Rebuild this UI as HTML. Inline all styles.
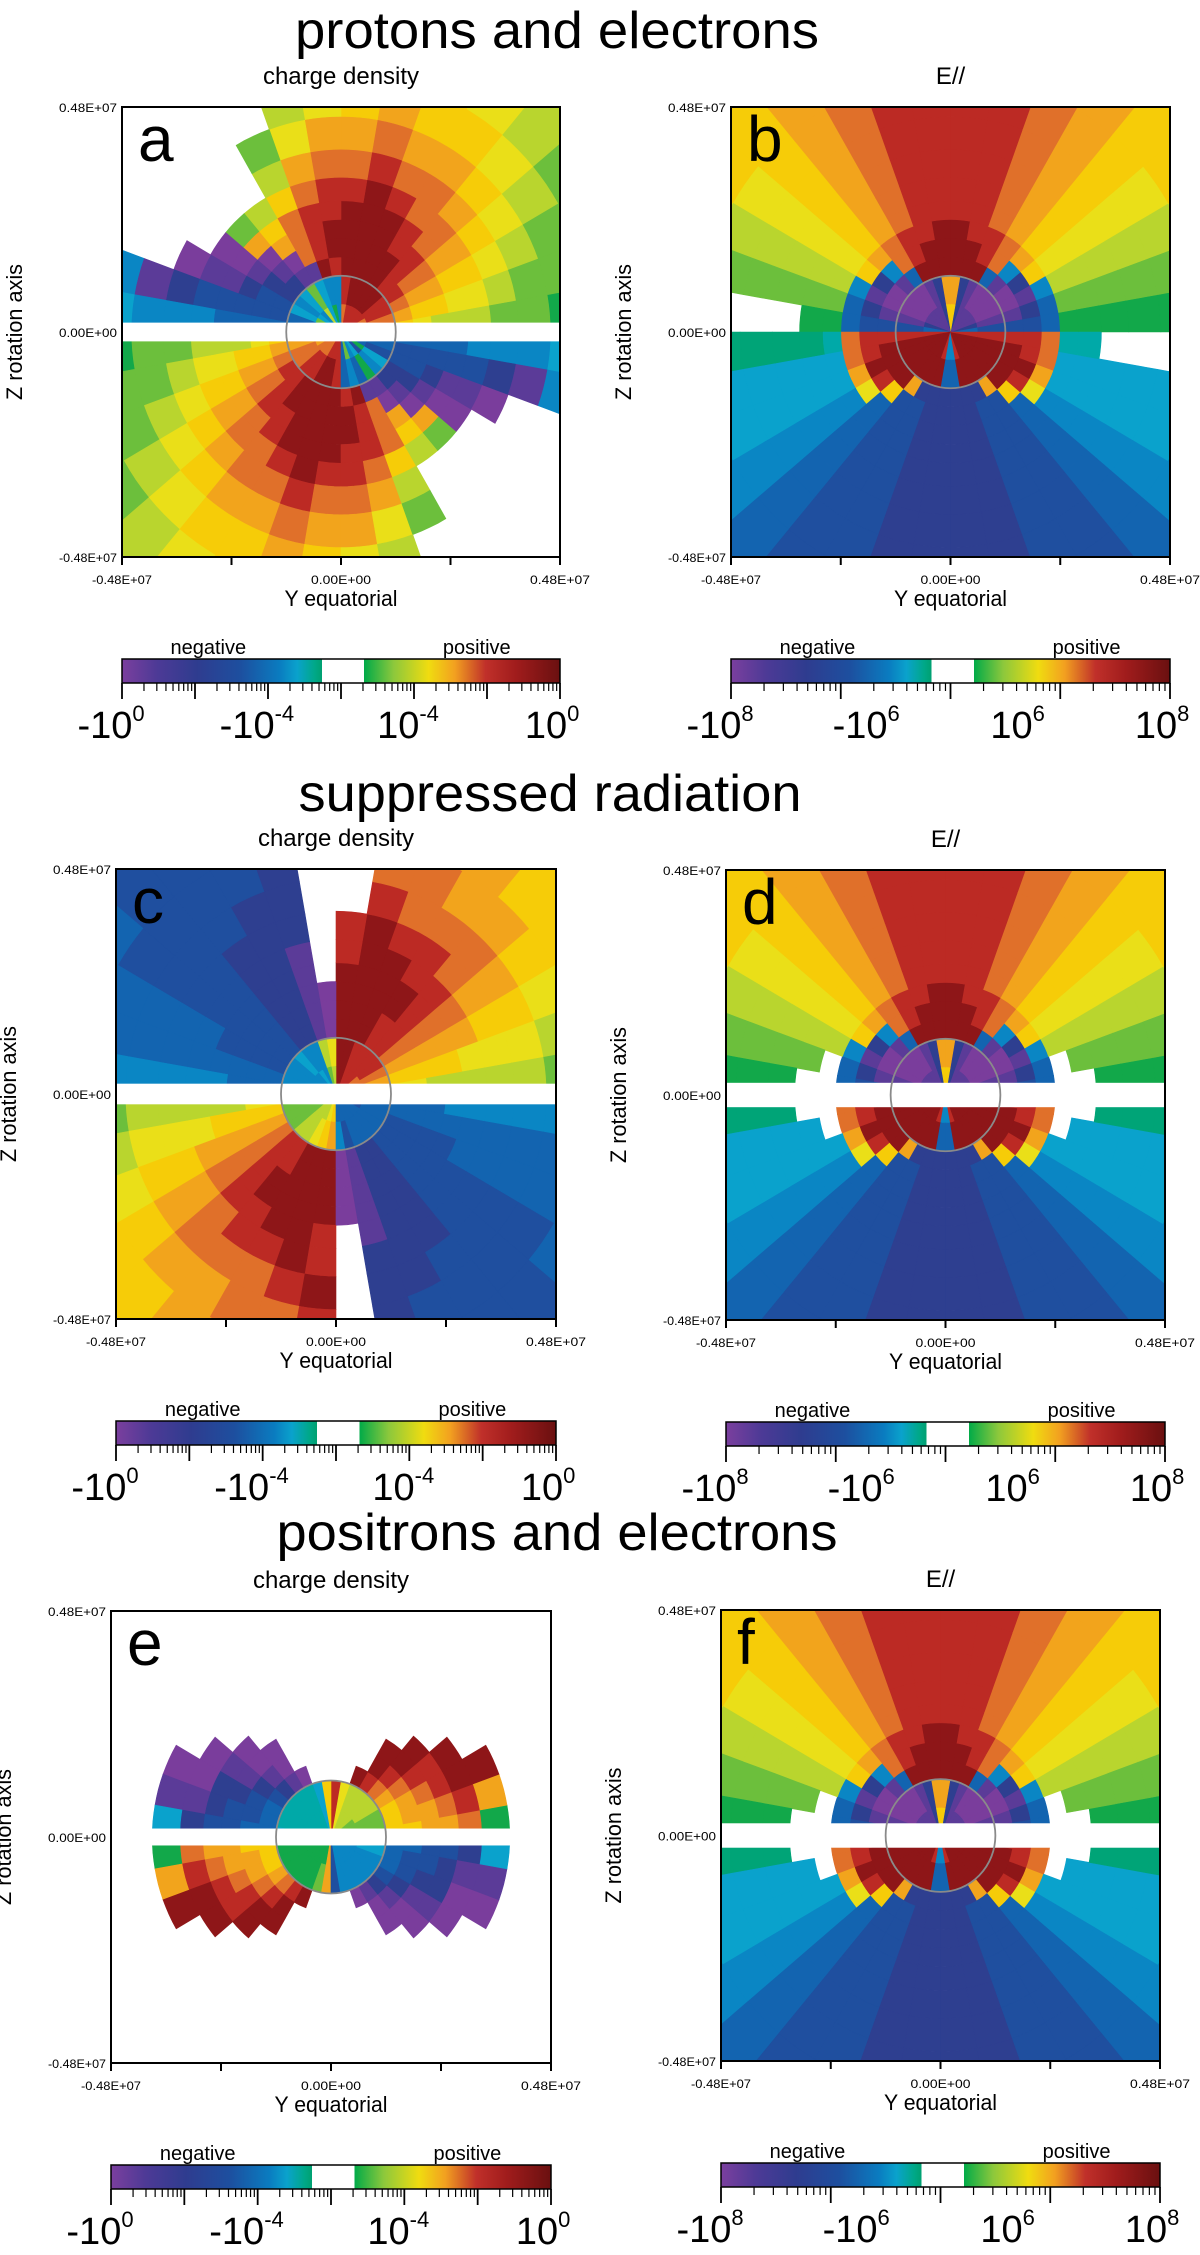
<!DOCTYPE html>
<html><head><meta charset="utf-8"><title>charge density and E// panels</title>
<style>
html,body{margin:0;padding:0;background:#fff;}
svg{display:block;}
text{font-family:"Liberation Sans",sans-serif;fill:#000;}
</style></head>
<body>
<svg id="fig" xmlns="http://www.w3.org/2000/svg" width="1200" height="2255" viewBox="0 0 1200 2255">
<defs>
<linearGradient id="cbgrad" x1="0" x2="1" y1="0" y2="0">
<stop offset="0" stop-color="#7b3f9e"/><stop offset="0.08" stop-color="#4d3a96"/>
<stop offset="0.17" stop-color="#2f3c8f"/><stop offset="0.27" stop-color="#1d4f9f"/>
<stop offset="0.36" stop-color="#0a7cc0"/><stop offset="0.40" stop-color="#0aa2cc"/>
<stop offset="0.44" stop-color="#00a888"/><stop offset="0.457" stop-color="#00a070"/>
<stop offset="0.457" stop-color="#ffffff"/><stop offset="0.553" stop-color="#ffffff"/>
<stop offset="0.553" stop-color="#00aa48"/><stop offset="0.62" stop-color="#8cc83c"/>
<stop offset="0.70" stop-color="#f0dc10"/><stop offset="0.76" stop-color="#f2a020"/>
<stop offset="0.83" stop-color="#c0302a"/><stop offset="0.90" stop-color="#a01c1c"/>
<stop offset="1" stop-color="#6a1010"/>
</linearGradient>
</defs>
</svg>
<script>
// ---------- data ----------
const ringEdges = [0,0.6,1.2,1.6,2.0,2.4,2.8,3.3,3.9,4.6,5.5,7.0]; // radius bins (1e6 m)
const angleStepDeg = 10;
const axisMin = -4.8, axisMax = 4.8;
const diskRadius = 1.2;
const xTickValues = [-4.8,-2.4,0,2.4,4.8];
const xTickLabels = ["-0.48E+07","","0.00E+00","","0.48E+07"];
const yTickValues = [4.8,0,-4.8];
const yTickLabels = ["0.48E+07","0.00E+00","-0.48E+07"];
const rowTitles = ["protons and electrons","suppressed radiation","positrons and electrons"];
const panelTitles = ["charge density","E//","charge density","E//","charge density","E//"];
const panelLetters = ["a","b","c","d","e","f"];
const cbBase = ["-10","-10","10","10"];
const cbExpCharge = ["0","-4","-4","0"];
const cbExpField = ["8","6","6","8"];
const gapHalf = [0.2,0,0.22,0.26,0.18,0.26];

const dataA = [
"677888887 d1c3dc2dc 566777888 e2dcf1ede",
"678899998 ddc2cdced 567788998 ede1dcfee",
"567889999 89hhggffe 567889999 89hhggffe",
"456789999 987ihgffe 456789999 987ihgffe",
"356788999 9876ihgfe 356788999 9876ihgfe",
"345678999 88756ihfe 345678999 88756ihfe",
"345677898 87532ihfd 345677898 87532ihfd",
"234567787 763...igd 234567787 763...igd",
"223456676 642....hd 223456676 642....hd",
"122345565 43.....dc 122345565 43.....dc",
"112234554 32......c 112234554 32......c"];
const dataB = [
"eghhhhhg5 5ghhhhhge 89999998d d89999998",
"fhiiiihg6 6ghiiiihf 89999999e e99999998",
"fhiihe999 999ehiihf 899996ggg ggg699998",
"fghgd7899 9987dghgf 88985ffgg ggff58988",
"eed567889 988765dee 7764effgg ggffe4677",
"123456788 887654321 bccdeffgg ggffedccb",
"123456788 887654321 accdeffgg ggffedccb",
"123456788 88765432. accdeffgg ggffedcc.",
"123456788 88765432. accdeffgg ggffedcc.",
"123456788 88765432. accdeffgg ggffedcc.",
"234556778 87765543. bcddeffgg ggffeddc."];
const dataC = [
"667788899 32dcdddcc 222233345 eeeeeefff",
"567888899 43ddcdddc 122233456 dfeeeeeee",
"456788999 ihggfffee 456788999 ihggfffee",
"456788999 ihggfffee 456788999 ihggfffee",
"356789999 ihggfffee 356789999 ihggfffee",
"356789999 .hggfffed 356789999 ihggfffed",
"346788998 .hggffeed 346788998 .hggffeed",
"345678898 .gggffeed 345678898 .gggffeed",
"34567778. .ggfffeed 345677789 .ggfffeed",
"23456677. .gffffeed 234566778 .gffffeed",
"23455667. ggfffeedd 234556678 ggfffeedd"];
const dataD = [
"eghhhhhg5 5ghhhhhge 89999998d d89999998",
"fhiiiihg6 6ghiiiihf 89999999e e99999998",
"fhiihe999 999ehiihf 899996ggg ggg699998",
"fghgd7899 9987dghgf 88985ffgg ggff58988",
"eed567889 988765dee 7764effgg ggffe4677",
"..3456788 8876543.. ..cdeffgg ggffedc..",
".23456788 88765432. .ccdeffgg ggffedcc.",
"123456788 887654321 accdeffgg ggffedcca",
"123456788 887654321 accdeffgg ggffedcca",
"123456788 887654321 accdeffgg ggffedcca",
"234556778 877655432 bcddeffgg ggffeddcb"];
const dataE = [
"222233348 5cbbbbbbb 111111116 fdddddddc",
"222333348 5cbbbbbbc 111111126 fddddddcc",
"5556789.. ..ihgfeee 5556789.. ..ihgfeee",
"566789... ...ihgffe 566789... ...ihgffe",
"667899... ...iihgff 667899... ...iihgff",
"67889.... ....ihggf 67889.... ....ihggf",
"7899..... .....iihg 7899..... .....iihg",
"169...... ......ihc 169...... ......ihc",
"......... ......... ......... .........",
"......... ......... ......... .........",
"......... ......... ......... ........."];
const dataF = [
"eghhhhhg5 5ghhhhhge 89999998d d89999998",
"fhiiiihg6 6ghiiiihf 89999999e e99999998",
"fhiihe999 999ehiihf 899996ggg ggg699998",
"fghgd7899 9987dghgf 88985ffgg ggff58988",
"eed567889 988765dee 7764effgg ggffe4677",
"..3456788 8876543.. ..cdeffgg ggffedc..",
".23456788 88765432. .ccdeffgg ggffedcc.",
"123456788 887654321 accdeffgg ggffedcca",
"123456788 887654321 accdeffgg ggffedcca",
"123456788 887654321 accdeffgg ggffedcca",
"234556778 877655432 bcddeffgg ggffeddcb"];
const panelData = [dataA,dataB,dataC,dataD,dataE,dataF];

// ---------- style / layout ----------
const palette = {i:'#7a3d9c',h:'#5b3b98',g:'#2e3f90',f:'#1f4f9f',e:'#1364b0',d:'#0a86c4',c:'#0aa2cc',b:'#00a9a8',a:'#00a477',
'1':'#12a84a','2':'#6cbf3c','3':'#b9d52e','4':'#eadf18','5':'#f6cc08','6':'#f2a41c','7':'#e0702a','8':'#bc2a24','9':'#8e1618'};
const layout = [
 {L:122,R:560,T:107,B:557},{L:731,R:1170,T:107,B:557},
 {L:116,R:556,T:869,B:1319},{L:726,R:1165,T:870,B:1320},
 {L:111,R:551,T:1611,B:2063},{L:721,R:1160,T:1610,B:2061}];
const rowTitleLayout = [{x:557,y:48,w:524},{x:550,y:811,w:503},{x:557,y:1550,w:561}];
const cbLabelFrac = [-0.025,0.308,0.653,0.982];

const NS = "http://www.w3.org/2000/svg";
const svg = document.getElementById('fig');
function mk(tag, attrs, parent){
  const el = document.createElementNS(NS, tag);
  for (const k in attrs) el.setAttribute(k, attrs[k]);
  (parent||svg).appendChild(el);
  return el;
}

rowTitles.forEach((t,i)=>{
  const lt = rowTitleLayout[i];
  const el = mk('text',{x:lt.x,y:lt.y,'text-anchor':'middle','font-size':52,textLength:lt.w,lengthAdjust:'spacingAndGlyphs'});
  el.textContent = t;
  
  
});

layout.forEach((p,pi)=>{
  const W = p.R-p.L, H = p.B-p.T;
  const xScale = v => p.L + (v-axisMin)/(axisMax-axisMin)*W;
  const yScale = v => p.B - (v-axisMin)/(axisMax-axisMin)*H;
  const ux = W/(axisMax-axisMin), uy = H/(axisMax-axisMin);
  const cx = xScale(0), cy = yScale(0);

  const g = mk('g',{});
  
  

  const clip = mk('clipPath',{id:'clip'+pi}, g);
  mk('rect',{x:p.L,y:p.T,width:W,height:H}, clip);

  const cells = mk('g',{'clip-path':'url(#clip'+pi+')'}, g);
  
  

  const rows = panelData[pi];
  rows.forEach((rowStr, ri)=>{
    const codes = rowStr.replace(/ /g,'');
    const r0 = ringEdges[ri], r1 = ringEdges[ri+1];
    for (let k=0;k<codes.length;k++){
      const c = codes[k];
      if (c==='.' || !palette[c]) continue;
      const t0 = k*angleStepDeg*Math.PI/180, t1 = (k+1)*angleStepDeg*Math.PI/180;
      const pts = [];
      const n = 4;
      for (let s=0;s<=n;s++){ const t=t0+(t1-t0)*s/n; pts.push([cx+r1*Math.cos(t)*ux, cy-r1*Math.sin(t)*uy]); }
      if (r0===0) pts.push([cx,cy]);
      else for (let s=n;s>=0;s--){ const t=t0+(t1-t0)*s/n; pts.push([cx+r0*Math.cos(t)*ux, cy-r0*Math.sin(t)*uy]); }
      const cell = mk('polygon',{points:pts.map(q=>q[0].toFixed(1)+','+q[1].toFixed(1)).join(' '),fill:palette[c],stroke:palette[c],'stroke-width':0.6}, cells);
      
      
    }
  });

  if (gapHalf[pi]>0){
    const gap = mk('rect',{x:p.L,y:yScale(gapHalf[pi]),width:W,height:yScale(-gapHalf[pi])-yScale(gapHalf[pi]),fill:'#fff'}, g);
    
    
  }

  const disk = mk('ellipse',{cx:cx,cy:cy,rx:diskRadius*ux,ry:diskRadius*uy,fill:'none',stroke:'#8a8a8a','stroke-width':1.8}, g);
  
  

  const frame = mk('rect',{x:p.L,y:p.T,width:W,height:H,fill:'none',stroke:'#000','stroke-width':2}, g);
  
  

  const letter = mk('text',{x:p.L+16,y:p.T+54,'font-size':64}, g);
  letter.textContent = panelLetters[pi];
  
  

  const st = mk('text',{x:cx,y:p.T-23,'text-anchor':'middle','font-size':24}, g);
  st.textContent = panelTitles[pi];
  
  

  xTickValues.forEach((v,i)=>{
    const tk = mk('line',{x1:xScale(v),x2:xScale(v),y1:p.B,y2:p.B+8,stroke:'#000','stroke-width':2}, g);
    
    
    if (xTickLabels[i]){
      const tl = mk('text',{x:xScale(v),y:p.B+27,'text-anchor':'middle','font-size':12,textLength:60,lengthAdjust:'spacingAndGlyphs'}, g);
      tl.textContent = xTickLabels[i];
      
      
    }
  });
  yTickValues.forEach((v,i)=>{
    const tl = mk('text',{x:p.L-5,y:yScale(v)+5,'text-anchor':'end','font-size':12,textLength:58,lengthAdjust:'spacingAndGlyphs'}, g);
    tl.textContent = yTickLabels[i];
    
    
  });

  const xt = mk('text',{x:cx,y:p.B+49,'text-anchor':'middle','font-size':22,textLength:113,lengthAdjust:'spacingAndGlyphs'}, g);
  xt.textContent = 'Y equatorial';
  
  

  const yt = mk('text',{x:0,y:0,'text-anchor':'middle','font-size':22,textLength:136,lengthAdjust:'spacingAndGlyphs',transform:'translate('+(p.L-100)+','+((p.T+p.B)/2)+') rotate(-90)'}, g);
  yt.textContent = 'Z rotation axis';
  
  

  // colorbar
  const cbTop = p.B+102, cbH = 24;
  const cb = mk('g',{}, g);
  
  
  const bar = mk('rect',{x:p.L,y:cbTop,width:W,height:cbH,fill:'url(#cbgrad)',stroke:'#000','stroke-width':1.5}, cb);
  
  
  const neg = mk('text',{x:p.L+0.197*W,y:cbTop-5,'text-anchor':'middle','font-size':20}, cb);
  neg.textContent = 'negative';
  
  
  const pos = mk('text',{x:p.L+0.81*W,y:cbTop-5,'text-anchor':'middle','font-size':20}, cb);
  pos.textContent = 'positive';
  
  

  const isField = (pi%2===1);
  const nSeg = isField ? 4 : 6;
  for (let s=0;s<=nSeg;s++){
    const x = p.L + W*s/nSeg;
    const mj = mk('line',{x1:x,x2:x,y1:cbTop+cbH,y2:cbTop+cbH+16,stroke:'#000','stroke-width':1.8}, cb);
    
    
    if (s<nSeg){
      for (let m=2;m<=9;m++){
        const xm = x + W/nSeg*Math.log10(m);
        const mn = mk('line',{x1:xm,x2:xm,y1:cbTop+cbH,y2:cbTop+cbH+8,stroke:'#000','stroke-width':1.2}, cb);
        
        
      }
    }
  }
  const exps = isField ? cbExpField : cbExpCharge;
  cbBase.forEach((b,i)=>{
    const tl = mk('text',{x:p.L+cbLabelFrac[i]*W,y:cbTop+79,'text-anchor':'middle','font-size':38}, cb);
    const t1 = mk('tspan',{}, tl); t1.textContent = b;
    const t2 = mk('tspan',{'font-size':22,dy:-17}, tl); t2.textContent = exps[i];
    
    
  });
});
</script>
</body></html>
